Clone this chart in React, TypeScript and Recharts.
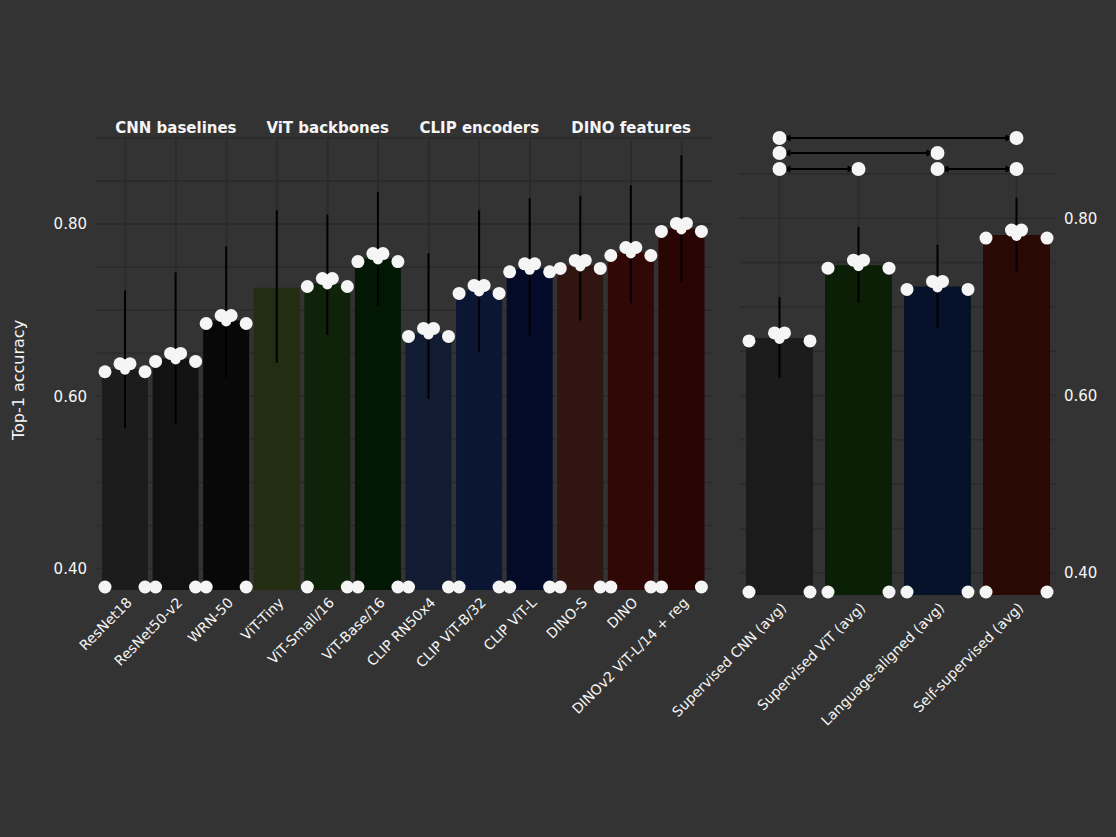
import React from 'react';
import {
  BarChart,
  Bar,
  XAxis,
  YAxis,
  CartesianGrid,
  ErrorBar,
  Cell,
  ReferenceLine,
  LabelList,
} from 'recharts';

// ---------- data ----------
const groupNames = ['CNN baselines', 'ViT backbones', 'CLIP encoders', 'DINO features'];

const leftLabels = [
  'ResNet18',
  'ResNet50-v2',
  'WRN-50',
  'ViT-Tiny',
  'ViT-Small/16',
  'ViT-Base/16',
  'CLIP RN50x4',
  'CLIP ViT-B/32',
  'CLIP ViT-L',
  'DINO-S',
  'DINO',
  'DINOv2 ViT-L/14 + reg',
];
const leftGroup = [0, 0, 0, 1, 1, 1, 2, 2, 2, 3, 3, 3];
const leftValues = [0.632, 0.644, 0.688, 0.726, 0.731, 0.76, 0.673, 0.723, 0.748, 0.752, 0.767, 0.795];
const leftLow = [0.563, 0.568, 0.621, 0.639, 0.671, 0.705, 0.597, 0.651, 0.671, 0.688, 0.708, 0.732];
const leftHigh = [0.723, 0.744, 0.774, 0.816, 0.811, 0.837, 0.766, 0.816, 0.83, 0.833, 0.845, 0.88];
const leftMarked = [true, true, true, false, true, true, true, true, true, true, true, true];
const leftColors = [
  '#1c1c1c', '#121212', '#080808',
  '#222d12', '#0f230a', '#021804',
  '#111c33', '#0a1633', '#030b28',
  '#301510', '#300805', '#280402',
];

const rightLabels = [
  'Supervised CNN (avg)',
  'Supervised ViT (avg)',
  'Language-aligned (avg)',
  'Self-supervised (avg)',
];
const rightValues = [0.665, 0.747, 0.723, 0.781];
const rightLow = [0.62, 0.705, 0.676, 0.74];
const rightHigh = [0.711, 0.79, 0.77, 0.823];
const rightMarked = [true, true, true, true];
const rightColors = ['#1b1b1b', '#0b1f06', '#06112a', '#2a0804'];

// significance brackets: from index, to index, row
const bracketFrom = [0, 0, 0, 2];
const bracketTo = [3, 2, 1, 3];
const bracketRow = [0, 1, 2, 2];
const bracketY = [0.8905, 0.8735, 0.8555];

const yTicksLeft = [0.4, 0.45, 0.5, 0.55, 0.6, 0.65, 0.7, 0.75, 0.8, 0.85, 0.9];
const yTicksRight = [0.4, 0.45, 0.5, 0.55, 0.6, 0.65, 0.7, 0.75, 0.8, 0.85];
const yLabelTicks = [0.4, 0.6, 0.8];
const yAxisTitle = 'Top-1 accuracy';

// ---------- derived tables ----------
const leftData = leftLabels.map((name, i) => ({
  name,
  value: leftValues[i],
  err: [leftValues[i] - leftLow[i], leftHigh[i] - leftValues[i]],
}));
const rightData = rightLabels.map((name, i) => ({
  name,
  value: rightValues[i],
  err: [rightValues[i] - rightLow[i], rightHigh[i] - rightValues[i]],
}));
const groupMiddle = groupNames.map((_, g) => {
  const idx = leftGroup.map((v, i) => (v === g ? i : -1)).filter((i) => i >= 0);
  return idx[Math.floor(idx.length / 2)];
});

// ---------- style ----------
const BG = '#333333';
const GRID = '#2a2a2a';
const TEXT = '#f5f5f5';
const FONT = 'DejaVu Sans, sans-serif';

const fmtY = (v: number) =>
  yLabelTicks.some((t) => Math.abs(t - v) < 1e-6) ? v.toFixed(2) : '';

const SlantTick = (props: any) => {
  const { x, y, payload } = props;
  return (
    <text
      x={x + 4}
      y={y + 2}
      transform={`rotate(-45, ${x + 4}, ${y + 2})`}
      textAnchor="end"
      dy={5}
      fill={TEXT}
      fontSize={14}
      fontFamily={FONT}
    >
      {payload.value}
    </text>
  );
};

const GroupTick = (props: any) => {
  const { x, y, index } = props;
  const g = groupMiddle.indexOf(index);
  if (g < 0) return <g />;
  return (
    <text x={x} y={y + 3} textAnchor="middle" fill={TEXT} fontSize={15} fontWeight="bold" fontFamily={FONT}>
      {groupNames[g]}
    </text>
  );
};

const makeDots = (marked: boolean[]) => (props: any) => {
  const vb = props.viewBox ?? props;
  const { x, y, width, height } = vb;
  const index = props.index;
  if (!marked[index] || x == null) return <g />;
  const cx = x + width / 2;
  const bottom = y + height;
  return (
    <g fill={TEXT}>
      <circle cx={x + 3} cy={y + 3} r={6.5} />
      <circle cx={x + width - 3} cy={y + 3} r={6.5} />
      <circle cx={cx - 5} cy={y - 5} r={6.5} />
      <circle cx={cx + 5} cy={y - 5} r={6.5} />
      <circle cx={cx} cy={y + 1} r={5} />
      <circle cx={x + 3} cy={bottom - 3} r={6.5} />
      <circle cx={x + width - 3} cy={bottom - 3} r={6.5} />
    </g>
  );
};

const BracketShape = (props: any) => {
  const { x1, y1, x2, y2 } = props;
  if (x1 == null) return <g />;
  const a = 7;
  return (
    <g>
      <line x1={x1 + 3} y1={y1} x2={x2 - 3} y2={y2} stroke="#000" strokeWidth={2} />
      <polygon points={`${x1 + 4},${y1} ${x1 + 4 + a},${y1 - 3.5} ${x1 + 4 + a},${y1 + 3.5}`} fill="#000" />
      <polygon points={`${x2 - 4},${y2} ${x2 - 4 - a},${y2 - 3.5} ${x2 - 4 - a},${y2 + 3.5}`} fill="#000" />
      <circle cx={x1} cy={y1} r={7} fill={TEXT} />
      <circle cx={x2} cy={y2} r={7} fill={TEXT} />
    </g>
  );
};

export default function App() {
  return (
    <div
      style={{
        position: 'absolute',
        left: 0,
        top: 0,
        width: 1116,
        height: 837,
        background: BG,
        overflow: 'hidden',
      }}
    >
      <svg width={40} height={837} style={{ position: 'absolute', left: 0, top: 0 }}>
        <text
          x={24}
          y={380}
          transform="rotate(-90, 24, 380)"
          textAnchor="middle"
          fill={TEXT}
          fontSize={16}
          fontFamily={FONT}
        >
          {yAxisTitle}
        </text>
      </svg>

      <div style={{ position: 'absolute', left: 0, top: 0 }}>
        <BarChart
          width={730}
          height={837}
          data={leftData}
          margin={{ top: 108, right: 18, bottom: 97, left: 0 }}
          barSize={46}
        >
          <CartesianGrid stroke={GRID} strokeWidth={1.5} fill="none" syncWithTicks />
          <XAxis
            xAxisId="top"
            orientation="top"
            dataKey="name"
            height={30}
            axisLine={false}
            tickLine={false}
            interval={0}
            padding={{ left: 5, right: 5 }}
            tick={<GroupTick />}
          />
          <XAxis
            dataKey="name"
            height={150}
            axisLine={false}
            tickLine={false}
            interval={0}
            padding={{ left: 5, right: 5 }}
            tick={<SlantTick />}
          />
          <YAxis
            width={95}
            domain={[0.375, 0.9]}
            allowDataOverflow
            ticks={yTicksLeft}
            tickFormatter={fmtY}
            axisLine={false}
            tickLine={false}
            tick={{ fill: TEXT, fontSize: 15, fontFamily: FONT }}
          />
          <Bar dataKey="value" isAnimationActive={false}>
            {leftData.map((d, i) => (
              <Cell key={d.name} fill={leftColors[i]} />
            ))}
            <ErrorBar dataKey="err" width={0} stroke="#000" strokeWidth={2} />
            <LabelList dataKey="value" content={makeDots(leftMarked)} />
          </Bar>
        </BarChart>
      </div>

      <div style={{ position: 'absolute', left: 640, top: 0 }}>
        <BarChart
          width={476}
          height={837}
          data={rightData}
          margin={{ top: 165, right: 0, bottom: 92, left: 100 }}
          barSize={67}
        >
          <CartesianGrid stroke={GRID} strokeWidth={1.5} fill="none" syncWithTicks />
          <XAxis
            dataKey="name"
            height={150}
            axisLine={false}
            tickLine={false}
            interval={0}
            tick={<SlantTick />}
          />
          <YAxis
            orientation="right"
            width={60}
            domain={[0.375, 0.86]}
            allowDataOverflow
            ticks={yTicksRight}
            tickFormatter={fmtY}
            axisLine={false}
            tickLine={false}
            tick={{ fill: TEXT, fontSize: 15, fontFamily: FONT, textAnchor: 'start' }}
          />
          <Bar dataKey="value" isAnimationActive={false}>
            {rightData.map((d, i) => (
              <Cell key={d.name} fill={rightColors[i]} />
            ))}
            <ErrorBar dataKey="err" width={0} stroke="#000" strokeWidth={2} />
            <LabelList dataKey="value" content={makeDots(rightMarked)} />
          </Bar>
          {bracketFrom.map((f, k) => (
            <ReferenceLine
              key={k}
              ifOverflow="visible"
              segment={[
                { x: rightLabels[f], y: bracketY[bracketRow[k]] },
                { x: rightLabels[bracketTo[k]], y: bracketY[bracketRow[k]] },
              ]}
              shape={<BracketShape />}
            />
          ))}
        </BarChart>
      </div>
    </div>
  );
}
